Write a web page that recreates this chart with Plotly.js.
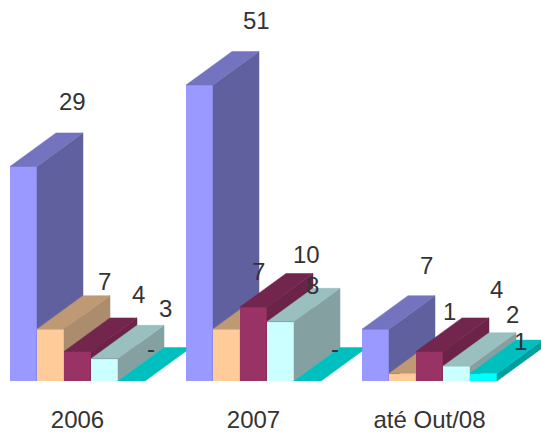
<!DOCTYPE html>
<html>
<head>
<meta charset="utf-8">
<script src="https://cdn.plot.ly/plotly-3.0.1.min.js"></script>
<style>html,body{margin:0;padding:0;background:#fff;overflow:hidden}</style>
</head>
<body>
<div id="chart" style="width:541px;height:432px"></div>
<script>
// Data
const categories = ['2006', '2007', 'até Out/08'];
const seriesA = [29, 51, 7];
const seriesB = [7, 7, 1];
const seriesC = [4, 10, 4];
const seriesD = [3, 8, 2];
const seriesE = [0, 0, 1];
const allSeries = [seriesA, seriesB, seriesC, seriesD, seriesE];

// The reference's value axis stops at 40: taller bars are cut there but keep their label
const axisCap = 40;

// Styles: [front, top, side]
const colours = [
  ['#9999FF', '#7373BF', '#60609F'],
  ['#FFCC99', '#BF9973', '#AB8C6C'],
  ['#993366', '#73264D', '#6B2348'],
  ['#CCFFFF', '#99BFBF', '#84A0A0'],
  ['#00FFFF', '#00BFBF', '#009F9F']
];

// Geometry
const W = 541, H = 432, baseline = 381, pxPerValue = 7.4, groupPitch = 176, barPx = 27;
const groupCentre0 = 77.5;
const xMin = -groupCentre0 / groupPitch, xMax = (W - groupCentre0) / groupPitch;
const yMax = baseline / pxPerValue;
const barW = barPx / groupPitch;
const depthX = 46 / groupPitch, depthY = 33.5 / pxPerValue;

// Label nudges from each bar's back-top centre, px: [right, up]
const labelNudges = [
  [[2.5, 31.5], [10.5, 31.5], [4.5, 30]],
  [[7.5, 14], [-14.5, 24], [0.5, 29]],
  [[14.5, 23], [6.5, 19], [20.5, 28]],
  [[14.5, 16.5], [-14.5, 2.7], [9.5, 18]],
  [[-26.5, -0.5], [-18.5, -0.5], [-9.5, -1]]
];

function clipRight(poly, limit) {
  const out = [];
  poly.forEach((p, i) => {
    const q = poly[(i + 1) % poly.length];
    if (p[0] <= limit) out.push(p);
    if ((p[0] < limit) !== (q[0] < limit) && p[0] !== limit && q[0] !== limit) {
      const t = (limit - p[0]) / (q[0] - p[0]);
      out.push([limit, p[1] + t * (q[1] - p[1])]);
    }
  });
  return out;
}

function polysToXY(polys) {
  const x = [], y = [];
  polys.forEach(poly => {
    poly.forEach(p => { x.push(p[0]); y.push(p[1]); });
    x.push(poly[0][0]); y.push(poly[0][1]);
    x.push(null); y.push(null);
  });
  return { x, y };
}

const traces = [], annotations = [];
const layout = {
  width: W, height: H,
  margin: { l: 0, r: 0, t: 0, b: H - baseline, pad: 0 },
  paper_bgcolor: '#fff', plot_bgcolor: '#fff',
  showlegend: false,
  bargap: 0,
  font: { family: '"Liberation Sans", Arial, sans-serif', size: 24, color: '#333' },
  xaxis: {
    range: [xMin, xMax], tickmode: 'array', tickvals: categories.map((c, i) => i), ticktext: categories,
    showgrid: false, zeroline: false, showline: false, ticks: 'outside', ticklen: 17, tickcolor: 'rgba(0,0,0,0)',
    tickfont: { size: 24, color: '#333' }, fixedrange: true
  },
  yaxis: { range: [0, yMax], visible: false, showgrid: false, zeroline: false, fixedrange: true },
  annotations
};

allSeries.forEach((values, s) => {
  const n = s === 0 ? '' : String(s + 1);
  const xa = 'x' + n, ya = 'y' + n;
  if (s > 0) {
    layout['xaxis' + n] = { range: [xMin, xMax], overlaying: 'x', visible: false, fixedrange: true };
    layout['yaxis' + n] = { range: [0, yMax], overlaying: 'y', visible: false, fixedrange: true };
  }
  const offset = (s - 2.5) * barW;
  const drawn = values.map(v => Math.min(v, axisCap));
  const tops = [], sides = [];
  drawn.forEach((v, g) => {
    const l = g + offset, r = l + barW;
    const limit = g + 1 - 2.5 * barW;
    let top = [[l, v], [r, v], [r + depthX, v + depthY], [l + depthX, v + depthY]];
    if (g < categories.length - 1) top = clipRight(top, limit);
    tops.push(top);
    if (v > 0) sides.push([[r, 0], [r + depthX, depthY], [r + depthX, v + depthY], [r, v]]);
    const nudge = labelNudges[s][g];
    annotations.push({
      x: (l + r) / 2 + depthX, y: v + depthY, xref: 'x', yref: 'y',
      xshift: nudge[0], yshift: nudge[1], xanchor: 'center', yanchor: 'middle',
      text: values[g] === 0 ? '-' : String(values[g]), showarrow: false,
      font: { size: 24, color: '#333' }
    });
  });
  const sideXY = polysToXY(sides), topXY = polysToXY(tops);
  traces.push({
    type: 'bar', x: categories.map((c, i) => i), y: drawn, width: barW, offset,
    marker: { color: colours[s][0], line: { width: 0 } }, xaxis: xa, yaxis: ya, hoverinfo: 'skip'
  });
  if (sideXY.x.length) traces.push({
    type: 'scatter', mode: 'lines', x: sideXY.x, y: sideXY.y, fill: 'toself', fillcolor: colours[s][2],
    line: { width: 0.5, color: colours[s][2] }, xaxis: xa, yaxis: ya, hoverinfo: 'skip'
  });
  traces.push({
    type: 'scatter', mode: 'lines', x: topXY.x, y: topXY.y, fill: 'toself', fillcolor: colours[s][1],
    line: { width: 0.5, color: colours[s][1] }, xaxis: xa, yaxis: ya, hoverinfo: 'skip'
  });
});

Plotly.newPlot('chart', traces, layout, { displayModeBar: false, staticPlot: true });
</script>
</body>
</html>
